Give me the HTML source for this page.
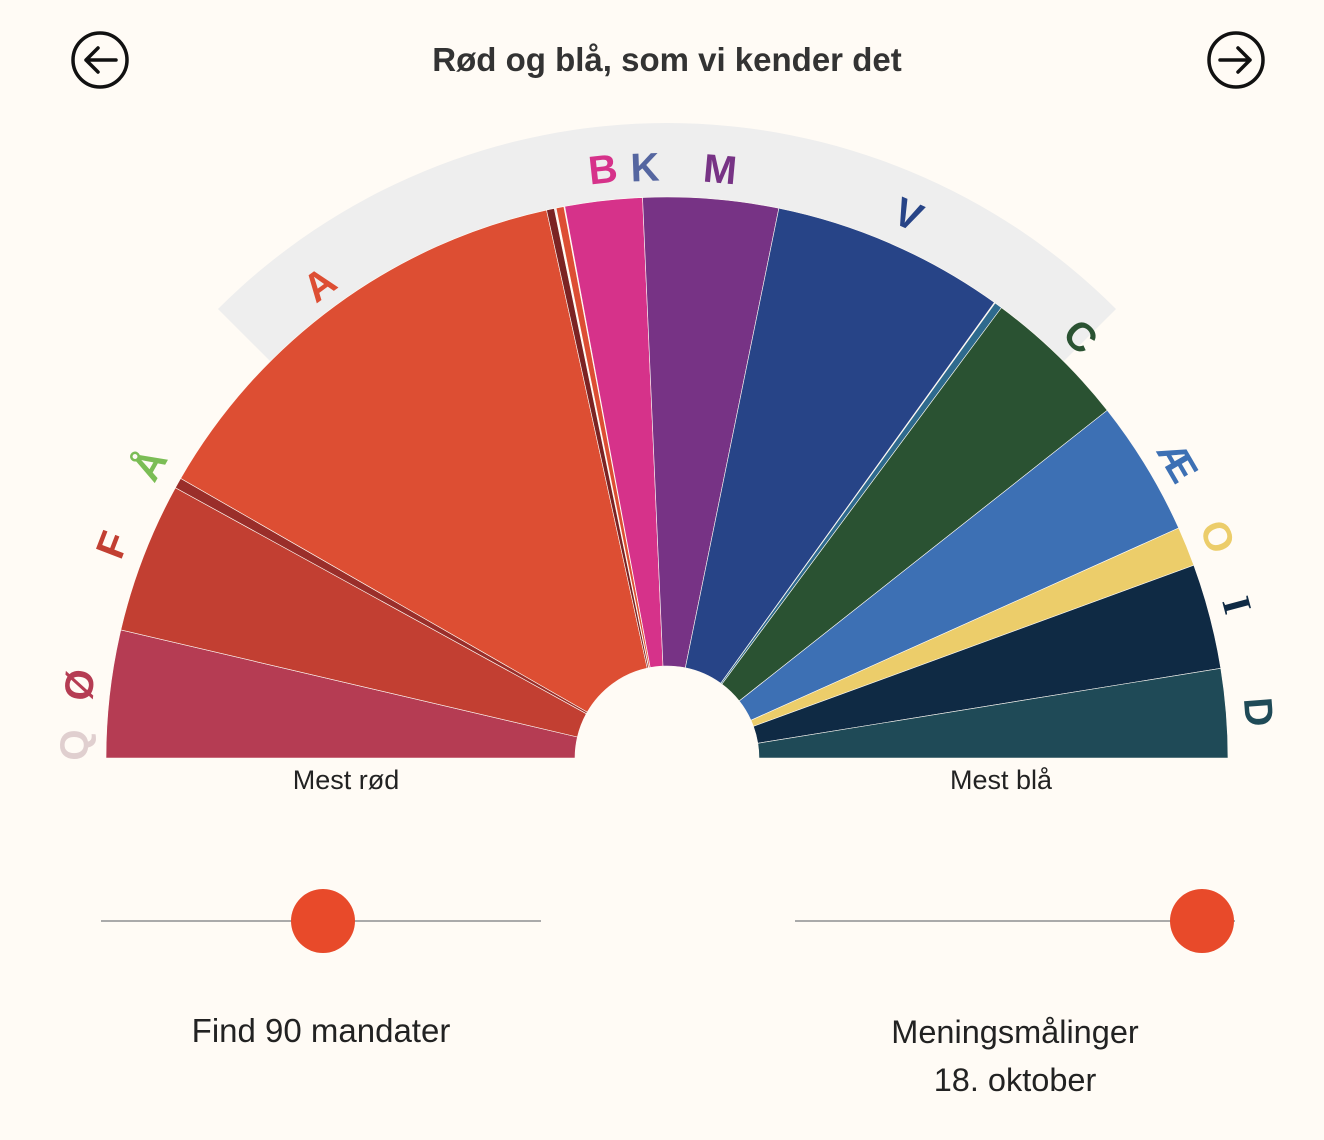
<!DOCTYPE html>
<html><head><meta charset="utf-8"><style>
body{margin:0;background:#fffbf5;width:1324px;height:1140px;overflow:hidden;font-family:"Liberation Sans",sans-serif;color:#222}
.t{position:absolute;white-space:nowrap}
</style></head><body>
<svg width="1324" height="1140" style="position:absolute;left:0;top:0">
<g id="arcs"></g>
<circle cx="100" cy="60" r="27" fill="none" stroke="#111" stroke-width="3.5"/>
<path d="M116 60H86M98 48L86 60L98 72" fill="none" stroke="#111" stroke-width="3.5" stroke-linejoin="round" stroke-linecap="round"/>
<circle cx="1236" cy="60" r="27" fill="none" stroke="#111" stroke-width="3.5"/>
<path d="M1220 60H1250M1238 48L1250 60L1238 72" fill="none" stroke="#111" stroke-width="3.5" stroke-linejoin="round" stroke-linecap="round"/>
<g font-family="Liberation Sans, sans-serif" font-weight="bold" font-size="40" text-anchor="middle" dominant-baseline="central">
<text x="75" y="745" fill="#e0cfcf" transform="rotate(-88.8 75 745)">Q</text>
<text x="80" y="685" fill="#b53c53" transform="rotate(-82.9 80 685)">Ø</text>
<text x="113" y="545" fill="#c23f32" transform="rotate(-69 113 545)">F</text>
<text x="150" y="465" fill="#7bbd55" transform="rotate(-60.5 150 465)">Å</text>
<text x="320" y="285" fill="#dd4e33" transform="rotate(-36.3 320 285)">A</text>
<text x="603" y="170" fill="#d6328a" transform="rotate(-6.2 603 170)">B</text>
<text x="645" y="168" fill="#5566a0" transform="rotate(-2.1 645 168)">K</text>
<text x="720" y="170" fill="#773385" transform="rotate(5.2 720 170)">M</text>
<text x="908" y="215" fill="#274487" transform="rotate(24 908 215)">V</text>
<text x="1080" y="337" fill="#2a5232" transform="rotate(44.5 1080 337)">C</text>
<text x="1177" y="462" fill="#3d70b4" transform="rotate(59.9 1177 462)">Æ</text>
<text x="1217" y="537" fill="#eccd6a" transform="rotate(68.1 1217 537)">O</text>
<text x="1237" y="605" fill="#0f2a44" font-family="Liberation Serif, serif" transform="rotate(75 1237 605)">I</text>
<text x="1258" y="712" fill="#1f4a57" transform="rotate(85.5 1258 712)">D</text>
</g>
<line x1="101" y1="921" x2="541" y2="921" stroke="#aaa" stroke-width="2"/>
<circle cx="323" cy="921" r="32" fill="#e84a2a"/>
<line x1="795" y1="921" x2="1235" y2="921" stroke="#aaa" stroke-width="2"/>
<circle cx="1202" cy="921" r="32" fill="#e84a2a"/>
</svg>
<div class="t" style="left:0;width:1334px;text-align:center;top:41px;font-size:33px;font-weight:900;color:#333">Rød og blå, som vi kender det</div>
<div class="t" style="left:246px;width:200px;text-align:center;top:765px;font-size:27px">Mest rød</div>
<div class="t" style="left:901px;width:200px;text-align:center;top:765px;font-size:27px">Mest blå</div>
<div class="t" style="left:121px;width:400px;text-align:center;top:1012px;font-size:33px">Find 90 mandater</div>
<div class="t" style="left:815px;width:400px;text-align:center;top:1008px;font-size:32.5px;line-height:48px">Meningsmålinger<br>18. oktober</div>
<script>
var cx=667,cy=758,ri=92,NS="http://www.w3.org/2000/svg",g=document.getElementById("arcs");
function P(r,a){a=a*Math.PI/180;return (cx-r*Math.cos(a)).toFixed(2)+" "+(cy-r*Math.sin(a)).toFixed(2);}
function seg(a0,a1,r0,r1,c,s){var p=document.createElementNS(NS,"path");
p.setAttribute("d","M"+P(r0,a0)+"L"+P(r1,a0)+"A"+r1+" "+r1+" 0 0 1 "+P(r1,a1)+"L"+P(r0,a1)+"A"+r0+" "+r0+" 0 0 0 "+P(r0,a0)+"Z");
p.setAttribute("fill",c);if(s){p.setAttribute("stroke","#fffbf5");p.setAttribute("stroke-width","0.6");}g.appendChild(p);}
seg(45,135,555,635,"#eeeeee");
var d=[[0,13.2,"#b53c53"],[13.2,28.8,"#c23f32"],[28.8,29.9,"#9a2e2a"],[29.9,77.6,"#dd4e33"],[77.6,78.4,"#7b2323"],[78.6,79.4,"#dd4e33"],[79.5,87.5,"#d6328a"],[87.5,101.5,"#773385"],[101.5,125.7,"#274487"],[125.8,126.6,"#2e6a8e"],[126.6,141.7,"#2a5232"],[141.7,155.8,"#3d70b4"],[155.8,159.9,"#eccd6a"],[159.9,170.8,"#0f2a44"],[170.8,180,"#1f4a57"]];
d.forEach(function(s){seg(s[0],s[1],ri,561,s[2],1);});
</script>
</body></html>
